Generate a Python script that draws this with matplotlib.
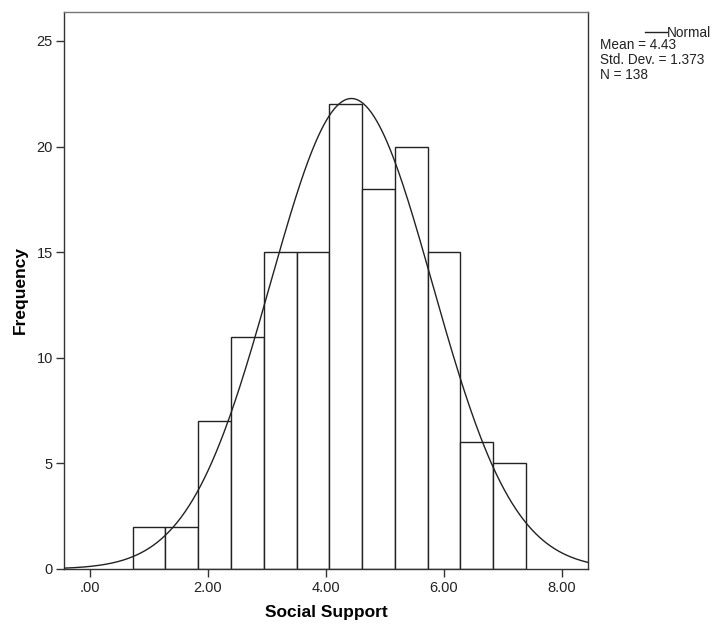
import numpy as np
import matplotlib
matplotlib.use("Agg")
import matplotlib.pyplot as plt
from matplotlib.lines import Line2D

plt.rcParams['font.family'] = ['Liberation Sans', 'DejaVu Sans']

# histogram data
counts = [2, 2, 7, 11, 15, 15, 22, 18, 20, 15, 6, 5]
bin_start = 0.724
bin_width = 0.5555
mean = 4.43
std = 1.373
n = 138

x_ticks = [0, 2, 4, 6, 8]
x_tick_labels = [".00", "2.00", "4.00", "6.00", "8.00"]
y_ticks = [0, 5, 10, 15, 20, 25]

fig = plt.figure(figsize=(7.2, 6.28), dpi=100)
ax = fig.add_axes([64 / 720, 59 / 628, (588 - 64) / 720, (569 - 12) / 628])

# bars
lefts = bin_start + bin_width * np.arange(len(counts))
ax.bar(lefts, counts, width=bin_width, align='edge', color='white',
       edgecolor='#222222', linewidth=1.0, zorder=2)

# normal curve scaled to counts
xmin, xmax = -0.44, 8.44
xs = np.linspace(xmin, xmax, 400)
ys = n * bin_width / (std * np.sqrt(2 * np.pi)) * np.exp(-0.5 * ((xs - mean) / std) ** 2)
ax.plot(xs, ys, color='#222222', linewidth=1.0, zorder=3)

ax.set_xlim(xmin, xmax)
ax.set_ylim(0, 26.37)
ax.set_xticks(x_ticks)
ax.set_xticklabels(x_tick_labels)
ax.set_yticks(y_ticks)

for s in ax.spines.values():
    s.set_color('#333333')
    s.set_linewidth(1.0)
ax.spines['top'].set_color('#777777')

ax.tick_params(axis='both', direction='out', length=6, width=1.0,
               color='#333333', labelsize=10.5, labelcolor='#222222')
ax.tick_params(axis='x', pad=3)
ax.tick_params(axis='y', pad=2)

ax.set_xlabel("Social Support", fontsize=12.5, fontweight='bold', labelpad=7)
ax.set_ylabel("Frequency", fontsize=12.5, fontweight='bold', labelpad=6)

# legend / stats box on the right
fig.add_artist(Line2D([645 / 720, 667 / 720], [1 - 31.5 / 628, 1 - 31.5 / 628],
                      color='#222222', linewidth=1.0))
fig.text(667 / 720, 1 - 33 / 628, "Normal", fontsize=9.8, va='center', ha='left', color='#222222')
fig.text(600 / 720, 1 - 45 / 628, "Mean = %.2f" % mean, fontsize=9.8, va='center', ha='left', color='#222222')
fig.text(600 / 720, 1 - 60 / 628, "Std. Dev. = %.3f" % std, fontsize=9.8, va='center', ha='left', color='#222222')
fig.text(600 / 720, 1 - 75 / 628, "N = %d" % n, fontsize=9.8, va='center', ha='left', color='#222222')

fig.savefig("out.png", dpi=100)
